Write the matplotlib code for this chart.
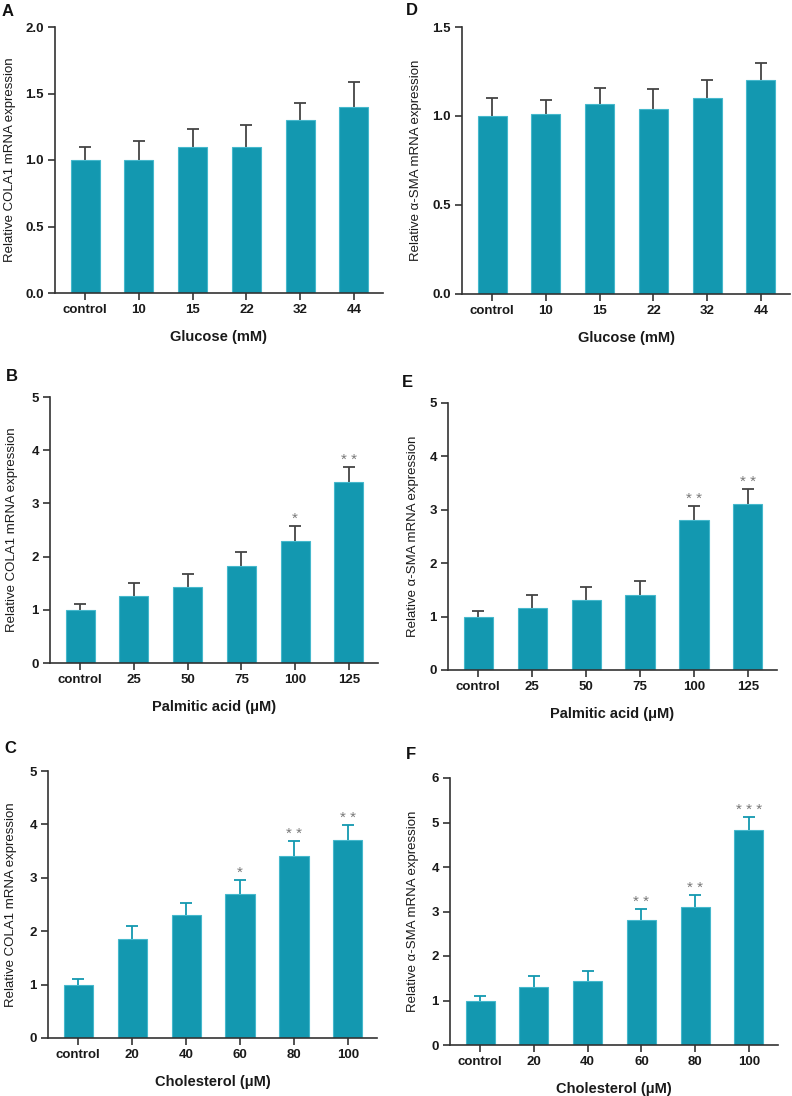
import matplotlib
matplotlib.use("Agg")
import matplotlib.pyplot as plt
import numpy as np

plt.rcParams['font.family'] = ['Liberation Sans', 'DejaVu Sans']

# ---------------- data ----------------
glucose_labels = ["control", "10", "15", "22", "32", "44"]
palmitic_labels = ["control", "25", "50", "75", "100", "125"]
chol_labels = ["control", "20", "40", "60", "80", "100"]

A_mean = [1.0, 1.0, 1.1, 1.1, 1.3, 1.4]
A_err = [0.10, 0.14, 0.13, 0.16, 0.13, 0.19]
A_sig = ["", "", "", "", "", ""]

D_mean = [1.0, 1.01, 1.07, 1.04, 1.10, 1.20]
D_err = [0.10, 0.08, 0.09, 0.11, 0.10, 0.10]
D_sig = ["", "", "", "", "", ""]

B_mean = [1.0, 1.26, 1.43, 1.82, 2.30, 3.40]
B_err = [0.11, 0.24, 0.24, 0.27, 0.28, 0.28]
B_sig = ["", "", "", "", "*", "* *"]

E_mean = [1.0, 1.16, 1.32, 1.40, 2.80, 3.10]
E_err = [0.10, 0.24, 0.24, 0.27, 0.28, 0.29]
E_sig = ["", "", "", "", "* *", "* *"]

C_mean = [1.0, 1.86, 2.30, 2.70, 3.40, 3.70]
C_err = [0.10, 0.24, 0.23, 0.26, 0.28, 0.28]
C_sig = ["", "", "", "*", "* *", "* *"]

F_mean = [1.0, 1.31, 1.44, 2.80, 3.10, 4.83]
F_err = [0.10, 0.25, 0.23, 0.26, 0.28, 0.29]
F_sig = ["", "", "", "* *", "* *", "* * *"]

COLA1_label = "Relative COLA1 mRNA expression"
SMA_label = "Relative α-SMA mRNA expression"

# ---------------- style ----------------
W, H = 792, 1096
BAR = "#1398b0"
EDGE = "#45b8cc"
AXC = "#333333"
ERR_DARK = "#444444"

fig = plt.figure(figsize=(W / 100, H / 100), dpi=100)


def make_axes(left, right, top, bottom):
    return fig.add_axes([left / W, 1 - bottom / H, (right - left) / W, (bottom - top) / H])


panels = [
    ("A", (55, 383, 27, 293), glucose_labels, A_mean, A_err, A_sig, COLA1_label, "Glucose (mM)",
     2.0, [0, 0.5, 1.0, 1.5, 2.0], "{:.1f}", ERR_DARK, -0.118, (2, 4)),
    ("D", (462, 790, 27, 294), glucose_labels, D_mean, D_err, D_sig, SMA_label, "Glucose (mM)",
     1.5, [0, 0.5, 1.0, 1.5], "{:.1f}", ERR_DARK, -0.121, (406, 3)),
    ("B", (50, 378, 397, 663), palmitic_labels, B_mean, B_err, B_sig, COLA1_label, "Palmitic acid (μM)",
     5, [0, 1, 2, 3, 4, 5], "{:d}", ERR_DARK, -0.097, (6, 369)),
    ("E", (448, 777, 403, 670), palmitic_labels, E_mean, E_err, E_sig, SMA_label, "Palmitic acid (μM)",
     5, [0, 1, 2, 3, 4, 5], "{:d}", ERR_DARK, -0.087, (402, 375)),
    ("C", (48, 377, 771, 1038), chol_labels, C_mean, C_err, C_sig, COLA1_label, "Cholesterol (μM)",
     5, [0, 1, 2, 3, 4, 5], "{:d}", BAR, -0.093, (4, 741)),
    ("F", (450, 778, 778, 1045), chol_labels, F_mean, F_err, F_sig, SMA_label, "Cholesterol (μM)",
     6, [0, 1, 2, 3, 4, 5, 6], "{:d}", BAR, -0.093, (406, 747)),
]

for (letter, box, labels, mean, err, sig, ylab, xlab, ymax, yticks, fmt, errc, ylx, lpos) in panels:
    ax = make_axes(*box)
    x = np.arange(len(labels))
    ax.errorbar(x, mean, yerr=err, fmt="none", ecolor=errc, elinewidth=1.3,
                capsize=4.5, capthick=1.3, zorder=1)
    ax.bar(x, mean, width=0.54, color=BAR, edgecolor=EDGE, linewidth=0.8, zorder=2)
    for xi, m, e, s in zip(x, mean, err, sig):
        if s:
            ax.annotate(s, (xi, m + e), xytext=(0, 0), textcoords="offset points",
                        ha="center", va="bottom", fontsize=11, color="#777777")
    ax.set_xlim(-0.56, 5.54)
    ax.set_ylim(0, ymax)
    ax.set_yticks(yticks)
    ax.set_yticklabels([fmt.format(v) if fmt == "{:.1f}" else fmt.format(int(v)) for v in yticks])
    ax.set_xticks(x)
    ax.set_xticklabels(labels)
    for sp in ["top", "right"]:
        ax.spines[sp].set_visible(False)
    for sp in ["left", "bottom"]:
        ax.spines[sp].set_color(AXC)
        ax.spines[sp].set_linewidth(1.2)
    ax.tick_params(axis="both", colors=AXC, width=1.2, length=5, labelsize=9.5, pad=3,
                   labelcolor="#1a1a1a")
    for t in ax.get_xticklabels() + ax.get_yticklabels():
        t.set_fontweight("bold")
    ax.set_ylabel(ylab, fontsize=9.5, color="#1a1a1a")
    ax.yaxis.set_label_coords(ylx, 0.5)
    ax.set_xlabel(xlab, fontsize=10.5, fontweight="bold", color="#1a1a1a", labelpad=10)
    fig.text(lpos[0] / W, 1 - lpos[1] / H, letter, fontsize=12, fontweight="bold",
             ha="left", va="top", color="#111111")

fig.savefig("out.png", dpi=100, facecolor="white")
